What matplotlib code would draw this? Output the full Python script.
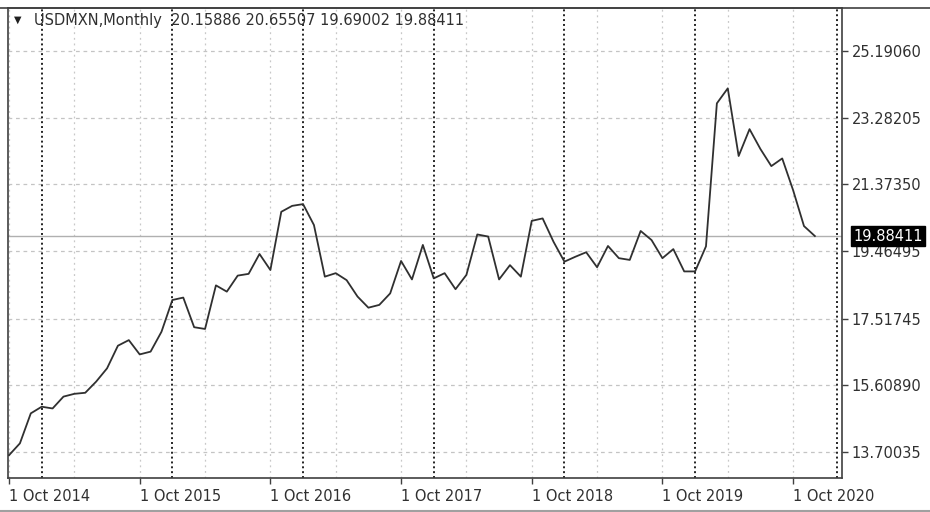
import matplotlib.pyplot as plt
from matplotlib.lines import Line2D

# monthly closes, USDMXN, Oct 2014 .. Dec 2020
closes = [13.60, 13.94, 14.80, 14.99, 14.94, 15.28, 15.36, 15.39, 15.71, 16.09,
          16.74, 16.90, 16.49, 16.57, 17.14, 18.05, 18.12, 17.27, 17.22, 18.47,
          18.29, 18.75, 18.80, 19.37, 18.91, 20.58, 20.75, 20.80, 20.20, 18.72,
          18.82, 18.62, 18.15, 17.83, 17.91, 18.24, 19.17, 18.64, 19.63, 18.67,
          18.82, 18.36, 18.77, 19.93, 19.87, 18.64, 19.05, 18.72, 20.32, 20.39,
          19.72, 19.15, 19.29, 19.42, 18.99, 19.60, 19.25, 19.20, 20.03, 19.77,
          19.25, 19.51, 18.87, 18.87, 19.59, 23.69, 24.12, 22.18, 22.95, 22.38,
          21.89, 22.11, 21.20, 20.17, 19.88411]
x_labels = ["1 Oct 2014", "1 Oct 2015", "1 Oct 2016", "1 Oct 2017",
            "1 Oct 2018", "1 Oct 2019", "1 Oct 2020"]
y_ticks = [13.70035, 15.60890, 17.51745, 19.46495, 21.37350, 23.28205, 25.19060]
last_price = 19.88411
header = "USDMXN,Monthly  20.15886 20.65507 19.69002 19.88411"

W, H = 930, 512
fig = plt.figure(figsize=(W / 100, H / 100), dpi=100)
fig.patch.set_facecolor('white')
ax = fig.add_axes([7.5 / W, (H - 478) / H, (842 - 7.5) / W, (478 - 8) / H])

months = list(range(len(closes)))
ax.set_xlim(-0.14, 76.49)
ax.set_ylim(12.946, 26.424)

# grid: horizontal dashed, half-year light dotted, year separators dark dotted
for v in y_ticks:
    ax.axhline(v, color='#c4c4c4', lw=0.9, ls=(0, (3, 3)), zorder=1)
for m in range(0, 77, 6):
    ax.axvline(m, color='#c8c8c8', lw=0.9, ls=(0, (1.5, 3)), zorder=1)
for m in list(range(3, 64, 12)) + [76]:
    ax.axvline(m, color='#222222', lw=1.4, ls=(0, (1, 1.5)), zorder=2)

ax.axhline(last_price, color='#b0b0b0', lw=1.0, zorder=2)
ax.plot(months, closes, color='#303030', lw=1.3, zorder=3)

# axes styling
for s in ax.spines.values():
    s.set_color('#404040')
    s.set_linewidth(1.2)

ax.yaxis.tick_right()
ax.set_yticks(y_ticks)
ax.set_yticklabels([f"{v:.5f}" for v in y_ticks])
ax.tick_params(axis='y', direction='out', length=4, width=1, pad=3,
               colors='#404040', labelcolor='#303030', labelsize=10.5)
ax.set_xticks(range(0, 73, 12))
ax.set_xticklabels(x_labels)
ax.tick_params(axis='x', direction='out', length=4, width=1, pad=4,
               colors='#404040', labelcolor='#303030', labelsize=10.5)
for t in ax.get_xticklabels():
    t.set_horizontalalignment('left')

# current price box
ax.annotate(f"{last_price:.5f}", xy=(1.0, last_price), xycoords=('axes fraction', 'data'),
            xytext=(8, 0), textcoords='offset points', ha='left', va='center',
            color='white', fontsize=10.5,
            bbox=dict(boxstyle='square,pad=0.15', fc='black', ec='black'))

# header
fig.text(14 / W, 1 - 20 / H, "\u25bc", fontsize=7, color='#202020', va='center')
fig.text(34 / W, 1 - 20 / H, header, fontsize=10.5, color='#303030', va='center')

# window frame lines
fig.add_artist(Line2D([0, 1], [1 - 8 / H, 1 - 8 / H], color='#404040', lw=1.2))
fig.add_artist(Line2D([0, 1], [1 / H, 1 / H], color='#a0a0a0', lw=1.5))

fig.savefig('out.png', dpi=100)
